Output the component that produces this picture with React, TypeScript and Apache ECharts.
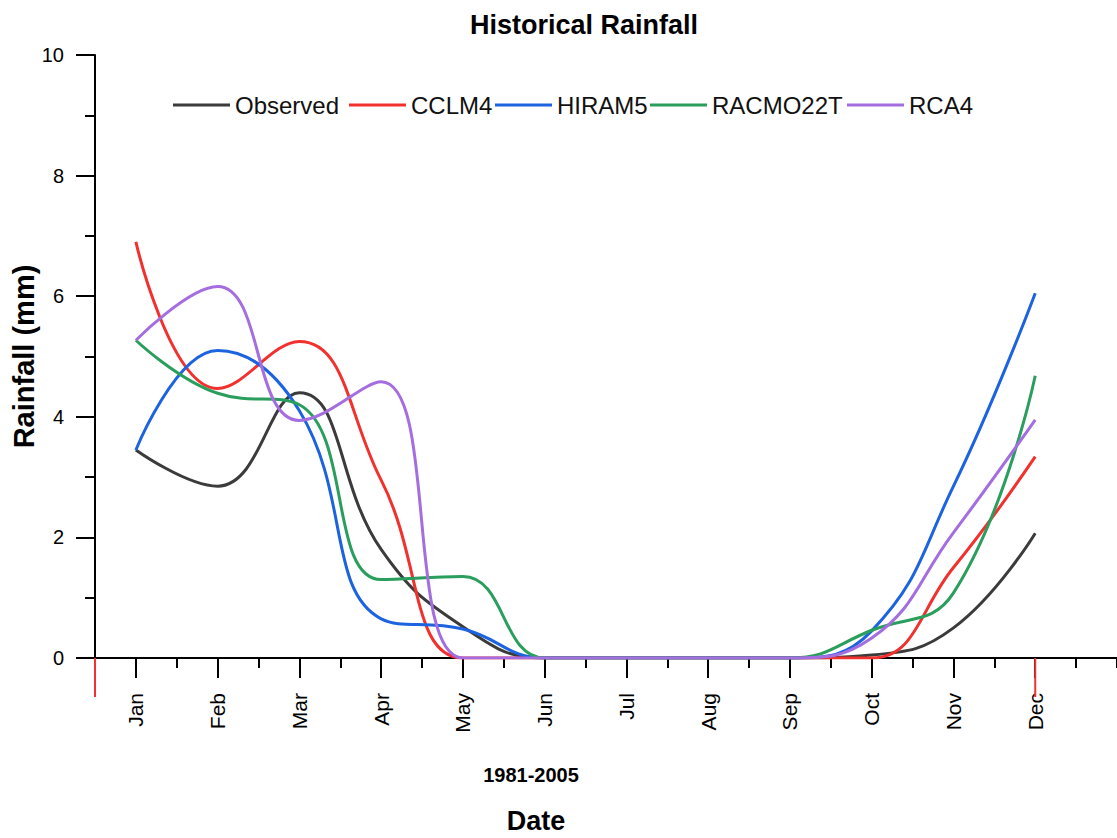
import React, { useEffect, useRef } from 'react';
import * as echarts from 'echarts';

const months = ['Jan', 'Feb', 'Mar', 'Apr', 'May', 'Jun', 'Jul', 'Aug', 'Sep', 'Oct', 'Nov', 'Dec'];
const observed = [3.45, 2.85, 4.4, 1.8, 0.52, 0, 0, 0, 0, 0.05, 0.5, 2.07];
const cclm4 = [6.9, 4.47, 5.25, 2.95, 0, 0, 0, 0, 0, 0, 1.5, 3.34];
const hiram5 = [3.45, 5.1, 4.1, 0.65, 0.48, 0, 0, 0, 0, 0.45, 2.85, 6.05];
const racmo22t = [5.27, 4.39, 4.2, 1.3, 1.35, 0, 0, 0, 0, 0.46, 1.08, 4.68];
const rca4 = [5.27, 6.16, 3.94, 4.58, 0, 0, 0, 0, 0, 0.33, 2.08, 3.95];
const seriesNames = ['Observed', 'CCLM4', 'HIRAM5', 'RACMO22T', 'RCA4'];
const seriesColors = ['#3b3b3b', '#f2312e', '#1c63e0', '#2a9e5c', '#a46de0'];
const xSubtitle = '1981-2005';
const xTitle = 'Date';
const yTitle = 'Rainfall (mm)';
const chartTitle = 'Historical Rainfall';

export default function App() {
  const ref = useRef<HTMLDivElement>(null);
  useEffect(() => {
    const chart = echarts.init(ref.current!, null, { renderer: 'svg' });
    const font = "'Liberation Sans', Arial, sans-serif";
    const axisLs = { color: '#000', width: 2 };
    const allData = [observed, cclm4, hiram5, racmo22t, rca4];
    const monthIdx = months.map((_, i) => i);
    const series = seriesNames.map((name, i) => ({
      type: 'line',
      name,
      xAxisIndex: 0,
      yAxisIndex: 0,
      data: allData[i].map((v, m) => [m, v]),
      smooth: 0.45,
      showSymbol: false,
      symbol: 'none',
      lineStyle: { color: seriesColors[i], width: 3 },
      itemStyle: { color: seriesColors[i] },
    }));
    const legendLefts = [173, 349, 495, 650, 847];
    const legends = seriesNames.map((name, i) => ({
      data: [name],
      left: legendLefts[i],
      top: 91,
      padding: 0,
      itemWidth: 57,
      itemHeight: 3,
      icon: 'rect',
      itemGap: 0,
      selectedMode: false,
      textStyle: { fontSize: 24, fontFamily: font, color: '#111', lineHeight: 28 },
    }));
    chart.setOption({
      animation: false,
      backgroundColor: '#fff',
      title: {
        text: chartTitle,
        left: 470,
        top: 11,
        padding: 0,
        textStyle: { fontSize: 27, fontWeight: 'bold', fontFamily: font, color: '#000' },
      },
      legend: legends,
      grid: { left: 95, right: 0, top: 55, bottom: 180, containLabel: false, outerBoundsMode: 'none' },
      xAxis: [
        {
          type: 'value',
          min: -0.5,
          max: 12,
          position: 'bottom',
          axisLine: { show: true, onZero: false, lineStyle: axisLs },
          axisTick: { show: true, customValues: monthIdx, length: 20, lineStyle: axisLs },
          axisLabel: {
            customValues: monthIdx,
            formatter: (v: number) => months[Math.round(v)] ?? '',
            rotate: 90,
            margin: 35,
            fontSize: 21,
            color: '#000',
            fontFamily: font,
          },
          splitLine: { show: false },
        },
        {
          type: 'value',
          min: -0.5,
          max: 12,
          interval: 0.5,
          position: 'bottom',
          offset: 0,
          axisLine: { show: false, onZero: false },
          axisTick: { show: true, length: 10, lineStyle: axisLs },
          axisLabel: { show: false },
          splitLine: { show: false },
        },
      ],
      yAxis: {
        type: 'value',
        min: 0,
        max: 10,
        interval: 2,
        name: yTitle,
        nameLocation: 'middle',
        nameGap: 57,
        nameMoveOverlap: false,
        nameRotate: 90,
        nameTextStyle: { fontSize: 29, fontWeight: 'bold', fontFamily: font, color: '#000' },
        axisLine: { show: true, onZero: false, lineStyle: axisLs },
        axisTick: { show: true, length: 19, lineStyle: axisLs },
        minorTick: { show: true, splitNumber: 2, length: 10, lineStyle: axisLs },
        axisLabel: { margin: 31, fontSize: 20, color: '#000', fontFamily: font },
        splitLine: { show: false },
      },
      series,
    });
    const p0 = chart.convertToPixel({ gridIndex: 0 }, [-0.5, 0]) as number[];
    const pDec = chart.convertToPixel({ gridIndex: 0 }, [11, 0]) as number[];
    chart.setOption({
      graphic: [
        { type: 'line', shape: { x1: p0[0] - 18, y1: p0[1], x2: p0[0], y2: p0[1] }, style: { stroke: '#000', lineWidth: 2 } },
        { type: 'line', shape: { x1: p0[0], y1: p0[1], x2: p0[0], y2: p0[1] + 39 }, style: { stroke: '#f2312e', lineWidth: 2 }, z: 10 },
        { type: 'line', shape: { x1: pDec[0], y1: p0[1], x2: pDec[0], y2: p0[1] + 39 }, style: { stroke: '#f2312e', lineWidth: 2 }, z: 10 },
        {
          type: 'text', x: 531, y: 775,
          style: { text: xSubtitle, font: `bold 20px ${font}`, fill: '#000', textAlign: 'center', textVerticalAlign: 'middle' },
        },
        {
          type: 'text', x: 536, y: 821,
          style: { text: xTitle, font: `bold 27px ${font}`, fill: '#000', textAlign: 'center', textVerticalAlign: 'middle' },
        },
      ],
    });
    return () => chart.dispose();
  }, []);
  return <div ref={ref} style={{ position: 'fixed', left: 0, top: 0, width: 1117, height: 838 }} />;
}
